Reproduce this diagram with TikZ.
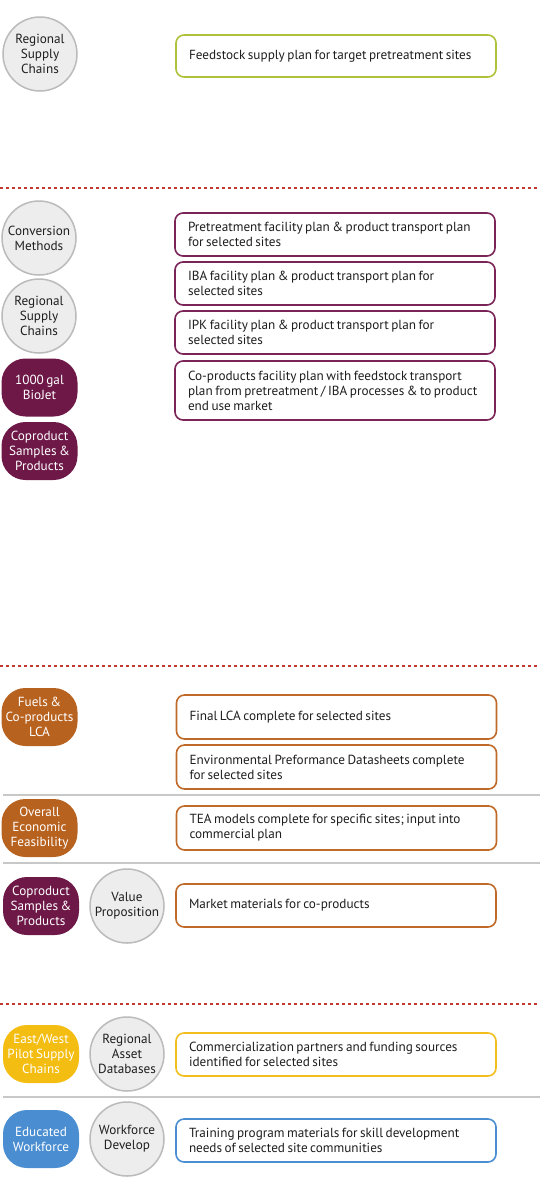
\documentclass[tikz,border=0pt]{standalone}
\usepackage{fontspec}
\setmainfont{PT Sans}
\definecolor{circfill}{HTML}{EDEDED}
\definecolor{circline}{HTML}{BBBBBB}
\definecolor{txtdark}{HTML}{1E1E1E}
\definecolor{limeline}{HTML}{B0C23A}
\definecolor{plum}{HTML}{6D1847}
\definecolor{plumline}{HTML}{7A2457}
\definecolor{rust}{HTML}{B8621F}
\definecolor{rustline}{HTML}{C06A2A}
\definecolor{gold}{HTML}{F4BD12}
\definecolor{goldline}{HTML}{F2BE1E}
\definecolor{skyblue}{HTML}{4A8ED1}
\definecolor{skyline}{HTML}{4A8ED1}
\definecolor{sepred}{HTML}{C03A30}
\definecolor{rulegray}{HTML}{C8C8C8}
\newcommand{\ctxt}{\fontsize{13.2}{15}\selectfont\spaceskip=0.19em plus 0.05em minus 0.02em\hyphenpenalty=10000}
\tikzset{
  circ/.style={circle, draw=circline, fill=circfill, line width=1.5pt, minimum size=74pt, inner sep=0pt, align=flush center, font=\ctxt, text=txtdark},
  blob/.style={rectangle, rounded corners=24pt, minimum width=76pt, minimum height=58pt, inner sep=0pt, align=flush center, font=\ctxt, text=white},
  plan/.style={rectangle, rounded corners=8pt, line width=1.6pt, fill=white, minimum width=320pt, text width=294pt, inner xsep=13pt, inner ysep=0pt, align=flush left, font=\ctxt, text=txtdark},
  sepline/.style={draw=sepred, line width=1.3pt, dash pattern=on 3pt off 3pt},
  rowrule/.style={draw=rulegray, line width=1.2pt}
}
\begin{document}
\begin{tikzpicture}[x=1pt,y=-1pt]
\path[fill=white] (0,0) rectangle (540,1184);
\useasboundingbox (0,0) rectangle (540,1184);
% Section 1
\node[circ] (rsc1) at (40,54) {Regional\\Supply\\Chains};
\node[plan, draw=limeline, minimum height=42pt] (b1) at (336,56) {Feedstock supply plan for target pretreatment sites};
\coordinate (s1l) at (0,188); \coordinate (s1r) at (540,188);
\draw[sepline] (s1l) -- (s1r);
% Section 2
\node[circ] (conv) at (39,238) {Conversion\\Methods};
\node[circ] (rsc2) at (39,316) {Regional\\Supply\\Chains};
\node[blob, fill=plum] (biojet) at (39.5,387.5) {1000 gal\\BioJet};
\node[blob, fill=plum] (copr1) at (39.5,451) {Coproduct\\Samples \&\\Products};
\node[plan, draw=plumline, minimum height=43pt] (b2a) at (335,234.5) {Pretreatment facility plan \& product transport plan\\for selected sites};
\node[plan, draw=plumline, minimum height=43pt] (b2b) at (335,283.5) {IBA facility plan \& product transport plan for\\selected sites};
\node[plan, draw=plumline, minimum height=43pt] (b2c) at (335,332.5) {IPK facility plan \& product transport plan for\\selected sites};
\node[plan, draw=plumline, minimum height=59pt] (b2d) at (335,390.5) {Co-products facility plan with feedstock transport\\plan from pretreatment / IBA processes \& to product\\end use market};
\coordinate (s2l) at (0,666); \coordinate (s2r) at (540,666);
\draw[sepline] (s2l) -- (s2r);
% Section 3
\node[blob, fill=rust] (lca) at (39.5,717) {Fuels \&\\Co-products\\LCA};
\node[plan, draw=rustline, minimum height=44pt] (b3a) at (336.5,717) {Final LCA complete for selected sites};
\node[plan, draw=rustline, minimum height=44pt] (b3b) at (336.5,767) {Environmental Preformance Datasheets complete\\for selected sites};
\coordinate (r1l) at (3,795); \coordinate (r1r) at (540,795);
\draw[rowrule] (r1l) -- (r1r);
\node[blob, fill=rust] (econ) at (39.5,828) {Overall\\Economic\\Feasibility};
\node[plan, draw=rustline, minimum height=44pt] (b3c) at (336.5,828) {TEA models complete for specific sites; input into\\commercial plan};
\coordinate (r2l) at (3,863); \coordinate (r2r) at (540,863);
\draw[rowrule] (r2l) -- (r2r);
\node[blob, fill=plum] (copr2) at (41,906) {Coproduct\\Samples \&\\Products};
\node[circ] (value) at (127,906) {Value\\Proposition};
\node[plan, draw=rustline, minimum height=43pt] (b3d) at (336,905.5) {Market materials for co-products};
\coordinate (s3l) at (0,1004); \coordinate (s3r) at (540,1004);
\draw[sepline] (s3l) -- (s3r);
% Section 4
\node[blob, fill=gold] (pilot) at (41,1054) {East/West\\Pilot Supply\\Chains};
\node[circ] (asset) at (127,1054) {Regional\\Asset\\Databases};
\node[plan, draw=goldline, minimum height=43pt] (b4a) at (336,1054.5) {Commercialization partners and funding sources\\identified for selected sites};
\coordinate (r3l) at (3,1097); \coordinate (r3r) at (540,1097);
\draw[rowrule] (r3l) -- (r3r);
\node[blob, fill=skyblue] (edu) at (41,1139) {Educated\\Workforce};
\node[circ] (wf) at (127,1139) {Workforce\\Develop};
\node[plan, draw=skyline, minimum height=43pt] (b4b) at (336,1140.5) {Training program materials for skill development\\needs of selected site communities};
\end{tikzpicture}
\end{document}
